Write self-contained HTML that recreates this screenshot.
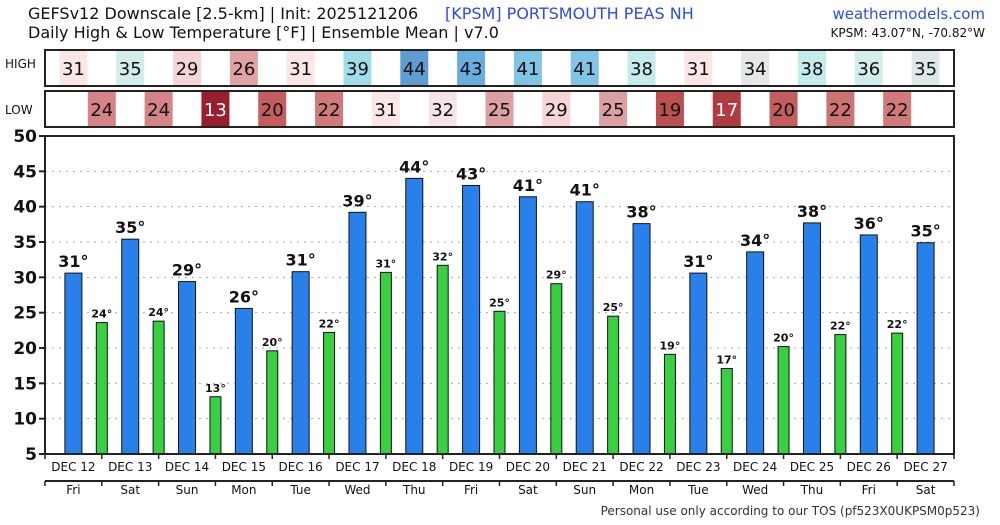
<!DOCTYPE html>
<html><head><meta charset="utf-8"><style>
body{margin:0;background:#fff}
svg text{font-family:"DejaVu Sans","Liberation Sans",sans-serif}
</style></head><body>
<svg id="c" width="1000" height="520" xmlns="http://www.w3.org/2000/svg">
<text x="28" y="19" font-size="16" fill="#111">GEFSv12 Downscale [2.5-km] | Init: 2025121206</text>
<text x="28" y="38" font-size="16" fill="#111">Daily High &amp; Low Temperature [°F] | Ensemble Mean | v7.0</text>
<text x="445" y="19" font-size="16" fill="#2a4cf0">[KPSM]   PORTSMOUTH PEAS NH</text>
<text x="985" y="19" font-size="15" fill="#2a4cf0" text-anchor="end">weathermodels.com</text>
<text x="985" y="37" font-size="12" fill="#111" text-anchor="end">KPSM: 43.07°N, -70.82°W</text>
<text x="5" y="68" font-size="12" fill="#111">HIGH</text>
<text x="5" y="114" font-size="12" fill="#111">LOW</text>
<g id="cells"></g>
<rect x="45" y="50" width="909" height="36" fill="none" stroke="#222" stroke-width="2"/>
<rect x="45" y="91" width="909" height="36" fill="none" stroke="#222" stroke-width="2"/>
<g id="plot"></g>
<text x="980" y="515" font-size="12" fill="#333" text-anchor="end" font-family="Liberation Sans">Personal use only according to our TOS (pf523X0UKPSM0p523)</text>
</svg>
<script>
const dates=["DEC 12","DEC 13","DEC 14","DEC 15","DEC 16","DEC 17","DEC 18","DEC 19","DEC 20","DEC 21","DEC 22","DEC 23","DEC 24","DEC 25","DEC 26","DEC 27"];
const weekdays=["Fri","Sat","Sun","Mon","Tue","Wed","Thu","Fri","Sat","Sun","Mon","Tue","Wed","Thu","Fri","Sat"];
const highs=[30.6,35.4,29.4,25.6,30.8,39.2,44,43,41.4,40.7,37.6,30.6,33.6,37.7,36,34.9];
const lows=[23.6,23.8,13.1,19.6,22.2,30.7,31.7,25.2,29.1,24.5,19.1,17.1,20.2,21.9,22.1];
const yTicks=[5,10,15,20,25,30,35,40,45,50];
const highColors=["#fde6e6","#d3ecec","#f7d5d7","#e0a3a5","#fde6e6","#a0dde9","#5f9cd0","#6aaee0","#80c5e6","#80c5e6","#c4ecec","#fde6e6","#e3e7e7","#c4ecec","#d3ecec","#dde8e8"];
const lowColors=["#d48486","#d48486","#9a1f2e","#c25e5e","#d07a7a","#fde6e6","#f5e4e6","#dca0a2","#f7d5d7","#dca0a2","#bb5052","#b03c42","#c25e5e","#cc7474","#d07a7a"];
const NS="http://www.w3.org/2000/svg";
const X0=45,X1=954,DW=(X1-X0)/16,YT=136,YB=454;
const x=i=>X0+DW*(i+0.5);
const y=v=>YB-(v-5)/(50-5)*(YB-YT);
function mk(tag,a,p){const e=document.createElementNS(NS,tag);for(const k in a)e.setAttribute(k,a[k]);(p||document.getElementById('plot')).appendChild(e);return e;}
const cells=document.getElementById('cells');
highs.forEach((v,i)=>{
 const r=mk('rect',{x:x(i)-14,y:50,width:28,height:36,fill:highColors[i]},cells);
 
 
 const t=mk('text',{x:x(i),y:75,'font-size':18,'text-anchor':'middle',fill:'#111'},cells);t.textContent=Math.round(v);
 
 
});
lows.forEach((v,i)=>{
 const r=mk('rect',{x:x(i)+DW/2-14,y:91,width:28,height:36,fill:lowColors[i]},cells);
 
 
 const t=mk('text',{x:x(i)+DW/2,y:116,'font-size':18,'text-anchor':'middle',fill:Math.round(v)<=17?'#fff':'#111'},cells);t.textContent=Math.round(v);
 
 
});
yTicks.forEach(v=>{
 if(v>5&&v<50){const g=mk('line',{x1:X0,x2:X1,y1:y(v),y2:y(v),stroke:'#aaa','stroke-dasharray':'2,5'});
 
 }
 mk('line',{x1:X0-6,x2:X0,y1:y(v),y2:y(v),stroke:'#222','stroke-width':2});
 const t=mk('text',{x:X0-8,y:y(v)+6,'font-size':17,'text-anchor':'end',fill:'#111','font-weight':'bold'});t.textContent=v;
 
 
});
highs.forEach((v,i)=>{
 const b=mk('rect',{x:x(i)-8.5,y:y(v),width:17,height:YB-y(v),fill:'#2a80ea',stroke:'#111','stroke-width':1});
 
 
 const t=mk('text',{x:x(i),y:y(v)-6,'font-size':16,'text-anchor':'middle',fill:'#111','font-weight':'bold'});t.textContent=Math.round(v)+'°';
 
 
});
lows.forEach((v,i)=>{
 const cx=x(i)+DW/2;
 const b=mk('rect',{x:cx-5.5,y:y(v),width:11,height:YB-y(v),fill:'#38d040',stroke:'#111','stroke-width':1});
 
 
 const t=mk('text',{x:cx,y:y(v)-5,'font-size':11,'text-anchor':'middle',fill:'#111','font-weight':'bold'});t.textContent=Math.round(v)+'°';
 
 
});
const f=mk('rect',{x:X0,y:YT,width:X1-X0,height:YB-YT,fill:'none',stroke:'#222','stroke-width':2});


mk('line',{x1:X0,x2:X1,y1:481,y2:481,stroke:'#222','stroke-width':2});
for(let i=0;i<=16;i++){const tx=X0+DW*i;mk('line',{x1:tx,x2:tx,y1:YB,y2:YB+5,stroke:'#222','stroke-width':1.5});mk('line',{x1:tx,x2:tx,y1:481,y2:486,stroke:'#222','stroke-width':1.5});}
dates.forEach((d,i)=>{
 const t=mk('text',{x:x(i),y:471,'font-size':12,'text-anchor':'middle',fill:'#111'});t.textContent=d;
 
 
 const w=mk('text',{x:x(i),y:494,'font-size':12,'text-anchor':'middle',fill:'#111'});w.textContent=weekdays[i];
 
 
});
</script>
</body></html>
